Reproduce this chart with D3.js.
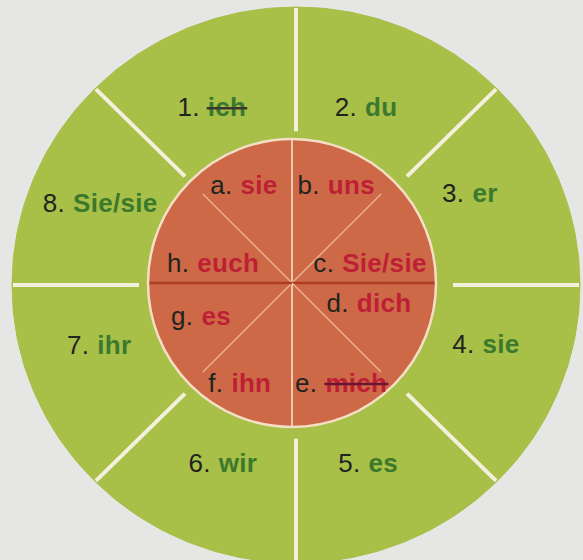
<!DOCTYPE html>
<html>
<head>
<meta charset="utf-8">
<script src="https://cdn.jsdelivr.net/npm/d3@7"></script>
<style>
  html, body { margin: 0; padding: 0; background: #e6e6e4; }
  svg { display: block; }
  text { font-family: "Liberation Sans", Arial, sans-serif; font-size: 26px; letter-spacing: 0.3px; }
</style>
</head>
<body>
<svg id="wheel"></svg>
<script>
// data: outer ring (subject pronouns), inner disc (object pronouns)
const outerNums  = ["1.", "2.", "3.", "4.", "5.", "6.", "7.", "8."];
const outerWords = ["ich", "du", "er", "sie", "es", "wir", "ihr", "Sie/sie"];
const outerCrossed = [true, false, false, false, false, false, false, false];

const innerLetters = ["a.", "b.", "c.", "d.", "e.", "f.", "g.", "h."];
const innerWords   = ["sie", "uns", "Sie/sie", "dich", "mich", "ihn", "es", "euch"];
const innerCrossed = [false, false, false, false, true, false, false, false];

// every slice has the same share of the wheel
const sectorShare = [1, 1, 1, 1, 1, 1, 1, 1];

////////////////////////////////////////////////
// layout
const width = 583;
const height = 560;
const outerC = {x: 296, y: 285};
const innerC = {x: 292, y: 283};
const outerR = 284;
const innerR = 144;

// small hand nudges so labels sit where the print has them
const outerNudge = [[-8,6],[-6,6],[-10,-16],[6,-17],[-4,-6],[3,-6],[-13,-16],[-12,-6]];
const innerNudge = [[-8,-1],[4,-1],[-19,20],[-20,-20],[9,3],[-12,3],[6,-7],[18,20]];

const svg = d3.select('svg#wheel')
  .attr('width', width)
  .attr('height', height);

const pie = d3.pie()
  .sort(null)
  .startAngle(-Math.PI / 4)
  .endAngle(2 * Math.PI - Math.PI / 4);

const slices = pie(sectorShare);

// green outer wheel (slightly squashed like the photo)
const gOuter = svg.append('g')
  .attr('transform', `translate(${outerC.x}, ${outerC.y}) scale(1, ${278 / 284})`);

const outerArc = d3.arc().innerRadius(0).outerRadius(outerR);

gOuter.selectAll('path.outer')
  .data(slices)
  .enter()
  .append('path')
    .attr('class', 'outer')
    .attr('d', outerArc)
    .attr('fill', '#a8bf48')
    .attr('stroke', '#a8bf48')
    .attr('stroke-width', 1);

// white gaps between the outer fields
gOuter.selectAll('line.gap')
  .data(slices)
  .enter()
  .append('line')
    .attr('class', 'gap')
    .attr('x1', d => 157 * Math.sin(d.startAngle))
    .attr('y1', d => -157 * Math.cos(d.startAngle))
    .attr('x2', d => (outerR - 1) * Math.sin(d.startAngle))
    .attr('y2', d => -(outerR - 1) * Math.cos(d.startAngle))
    .attr('stroke', '#f3f1dc')
    .attr('stroke-width', 4);

// orange inner disc
const gInner = svg.append('g')
  .attr('transform', `translate(${innerC.x}, ${innerC.y})`);

const innerArc = d3.arc().innerRadius(0).outerRadius(innerR);

gInner.selectAll('path.inner')
  .data(slices)
  .enter()
  .append('path')
    .attr('class', 'inner')
    .attr('d', innerArc)
    .attr('fill', '#cd6947')
    .attr('stroke', '#cd6947')
    .attr('stroke-width', 0.8);

// divider lines inside the disc
gInner.selectAll('line.div')
  .data(slices)
  .enter()
  .append('line')
    .attr('class', 'div')
    .each(function(d, i) {
      const a = d.startAngle;
      const horizontal = Math.abs(Math.cos(a)) < 0.01;
      const vertical = Math.abs(Math.sin(a)) < 0.01;
      const r = (horizontal || vertical) ? innerR : 126;
      d3.select(this)
        .attr('x1', 0).attr('y1', 0)
        .attr('x2', r * Math.sin(a))
        .attr('y2', -r * Math.cos(a))
        .attr('stroke', horizontal ? '#ad3d25' : (vertical ? '#f2c9a8' : '#eab291'))
        .attr('stroke-width', horizontal ? 2.5 : (vertical ? 2 : 1.4));
    });

gInner.append('circle')
  .attr('r', innerR)
  .attr('fill', 'none')
  .attr('stroke', '#f4dfc6')
  .attr('stroke-width', 2.5);

////////////////////////////////////////////////
// labels
function addLabel(parent, x, y, prefix, word, wordColor, crossed, crossColor) {
  const g = parent.append('g');
  const t1 = g.append('text')
    .attr('x', 0).attr('y', 0)
    .attr('fill', '#1e2420')
    .text(prefix);
  const w1 = t1.node().getComputedTextLength() + 8;
  const t2 = g.append('text')
    .attr('x', w1).attr('y', 0)
    .attr('fill', wordColor)
    .attr('font-weight', 'bold')
    .text(word);
  const w2 = t2.node().getComputedTextLength();
  if (crossed) {
    g.append('line')
      .attr('x1', w1 - 1).attr('x2', w1 + w2 + 1)
      .attr('y1', -8).attr('y2', -8)
      .attr('stroke', crossColor)
      .attr('stroke-width', 2.5);
  }
  const total = w1 + w2;
  g.attr('transform', `translate(${x - total / 2}, ${y + 9})`);
}

const outerLabelArc = d3.arc().innerRadius(120).outerRadius(278);
const gOuterLabels = svg.append('g')
  .attr('transform', `translate(${outerC.x}, ${outerC.y})`);

slices.forEach(function(d, i) {
  const c = outerLabelArc.centroid(d);
  addLabel(gOuterLabels, c[0] + outerNudge[i][0], c[1] + outerNudge[i][1],
    outerNums[i], outerWords[i], '#3b7a2d', outerCrossed[i], '#3a3630');
});

const innerLabelArc = d3.arc().innerRadius(70).outerRadius(140);
slices.forEach(function(d, i) {
  const c = innerLabelArc.centroid(d);
  addLabel(gInner, c[0] + innerNudge[i][0], c[1] + innerNudge[i][1],
    innerLetters[i], innerWords[i], '#bf1f35', innerCrossed[i], '#6c1430');
});
</script>
</body>
</html>
